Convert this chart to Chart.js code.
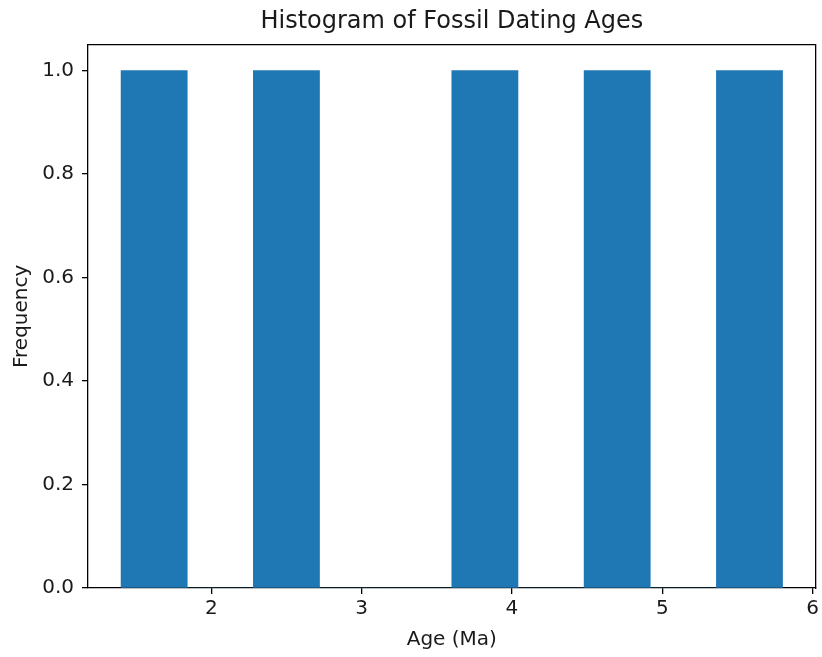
<!DOCTYPE html>
<html>
<head>
    <meta charset="utf-8">
    <title>Histogram of Fossil Dating Ages</title>
    <script src="https://cdn.jsdelivr.net/npm/chart.js"></script>
    <style>
        body { margin: 0; background: #fff; }
        #wrap { width: 822px; height: 657px; }
    </style>
</head>
<body>
    <div id="wrap"><canvas id="myChart" width="822" height="657"></canvas></div>
    <script>
        // histogram bins (edges) and counts per bin
        var binEdges = [1.4, 1.84, 2.28, 2.72, 3.16, 3.6, 4.04, 4.48, 4.92, 5.36, 5.8];
        var binCounts = [1, 0, 1, 0, 0, 1, 0, 1, 0, 1];
        var xTicks = [2, 3, 4, 5, 6];
        var yTicks = [0, 0.2, 0.4, 0.6, 0.8, 1.0];
        var xRange = [1.18, 6.02];
        var yRange = [0, 1.05];

        var points = binCounts.map(function (c, i) {
            return { x: (binEdges[i] + binEdges[i + 1]) / 2, y: c };
        });

        var txt = '#1a1a1a';
        var fontFam = "'DejaVu Sans', sans-serif";
        var lw = 1.3;

        var ctx = document.getElementById('myChart').getContext('2d');
        var chart = new Chart(ctx, {
            type: 'bar',
            data: {
                datasets: [{
                    label: 'Frequency',
                    data: points,
                    backgroundColor: '#1f77b4',
                    borderWidth: 0,
                    barPercentage: 1,
                    categoryPercentage: 1,
                    xAxisID: 'x',
                    yAxisID: 'y'
                }]
            },
            options: {
                responsive: false,
                animation: false,
                layout: { padding: 0 },
                plugins: {
                    legend: { display: false },
                    tooltip: { enabled: false },
                    title: { display: false }
                },
                scales: {
                    x: {
                        type: 'linear',
                        position: 'bottom',
                        min: xRange[0], max: xRange[1],
                        offset: false,
                        afterFit: function (s) { s.height = 69; },
                        afterBuildTicks: function (s) { s.ticks = xTicks.map(function (v) { return { value: v }; }); },
                        grid: { display: true, offset: false, drawOnChartArea: false, drawTicks: true, tickLength: 6, color: '#000', lineWidth: lw },
                        border: { display: true, color: '#000', width: lw },
                        ticks: { color: txt, padding: 3, maxRotation: 0, font: { family: fontFam, size: 20 } },
                        title: { display: true, text: 'Age (Ma)', color: txt, padding: { top: 0, bottom: 5.5 }, font: { family: fontFam, size: 20 } }
                    },
                    x2: {
                        type: 'linear',
                        position: 'top',
                        display: true,
                        min: xRange[0], max: xRange[1],
                        offset: false,
                        afterFit: function (s) { s.height = 44.7; },
                        grid: { display: true, drawOnChartArea: false, drawTicks: false },
                        border: { display: true, color: '#000', width: lw },
                        ticks: { display: false },
                        title: { display: true, text: 'Histogram of Fossil Dating Ages', color: txt, padding: { top: 7.6, bottom: 0 }, font: { family: fontFam, size: 24 } }
                    },
                    y: {
                        type: 'linear',
                        position: 'left',
                        min: yRange[0], max: yRange[1],
                        afterFit: function (s) { s.width = 88; },
                        afterBuildTicks: function (s) { s.ticks = yTicks.map(function (v) { return { value: v }; }); },
                        grid: { display: true, drawOnChartArea: false, drawTicks: true, tickLength: 6, color: '#000', lineWidth: lw },
                        border: { display: true, color: '#000', width: lw },
                        ticks: { color: txt, padding: 8, font: { family: fontFam, size: 20 }, callback: function (v) { return v.toFixed(1); } },
                        title: { display: true, text: 'Frequency', color: txt, padding: { top: 10, bottom: 0 }, font: { family: fontFam, size: 20 } }
                    },
                    y2: {
                        type: 'linear',
                        position: 'right',
                        display: true,
                        min: yRange[0], max: yRange[1],
                        afterFit: function (s) { s.width = 4.7; },
                        grid: { display: true, drawOnChartArea: false, drawTicks: false },
                        border: { display: true, color: '#000', width: lw },
                        ticks: { display: false }
                    }
                }
            }
        });
    </script>
</body>
</html>
